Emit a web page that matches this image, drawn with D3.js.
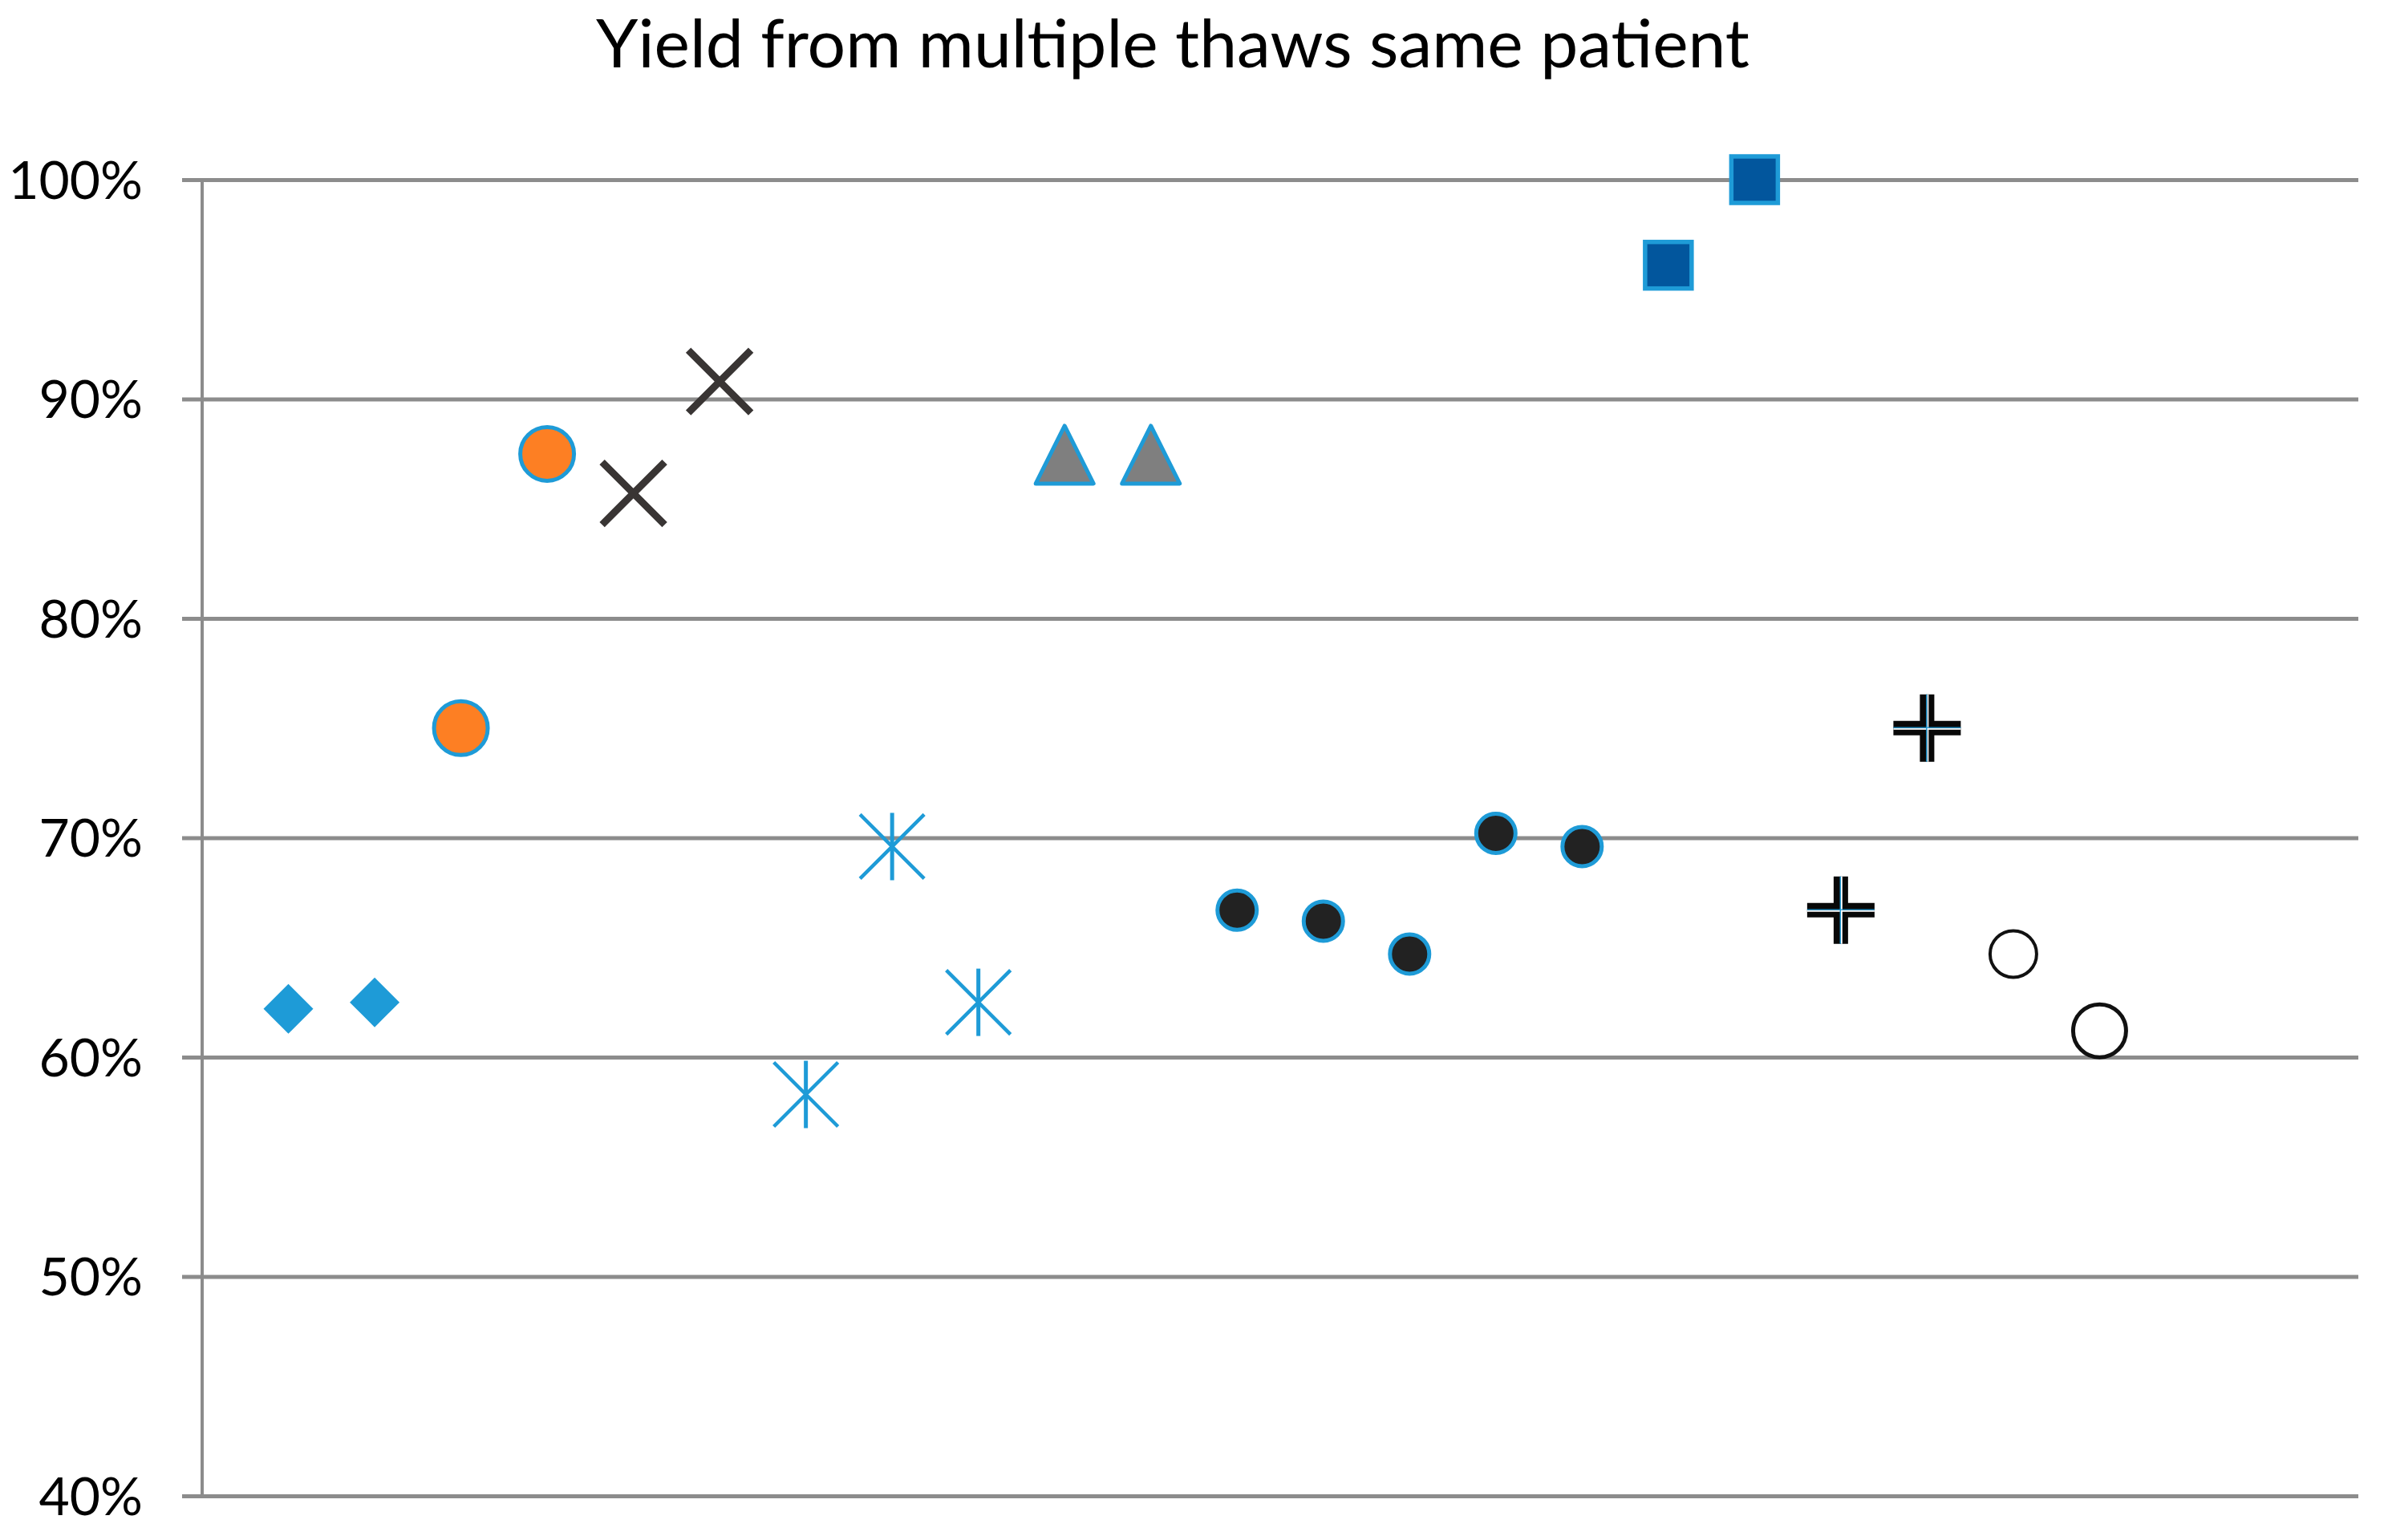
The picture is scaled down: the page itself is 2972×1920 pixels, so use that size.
<!DOCTYPE html>
<html>
<head>
<meta charset="utf-8">
<script src="https://cdn.jsdelivr.net/npm/d3@7"></script>
<style>
  body { margin: 0; background: #fff; }
  svg { display: block; font-family: Lato, "Open Sans", sans-serif; }
  .grid line { stroke: #8c8c8c; stroke-width: 5; }
  .labels text { fill: #000; font-size: 66px; font-family: Lato, "Open Sans", sans-serif; }
</style>
</head>
<body>
<svg id="chart"></svg>
<script>
"use strict";

var Width = 2972,
    Height = 1920,
    titleText = "Yield from multiple thaws same patient",
    yTicks = [0.4, 0.5, 0.6, 0.7, 0.8, 0.9, 1.0],
    xDomain = [0, 25];

// one array per patient series, in plotting order left to right
var diamondYield = [0.622, 0.625],
    orangeYield = [0.750, 0.875],
    crossYield = [0.857, 0.908],
    starYield = [0.583, 0.696, 0.625],
    triangleYield = [0.875, 0.875],
    dotYield = [0.667, 0.662, 0.647, 0.702, 0.696],
    squareYield = [0.961, 1.000],
    plusYield = [0.667, 0.750],
    ringYield = [0.647, 0.612];

var seriesNames = ["diamond", "orange", "cross", "star", "triangle", "dot", "square", "plus", "ring"],
    seriesValues = [diamondYield, orangeYield, crossYield, starYield, triangleYield, dotYield, squareYield, plusYield, ringYield];

var blue = "#1e9bd7";

var x = d3.scaleLinear().domain(xDomain).range([252, 2940]);
var y = d3.scaleLinear().domain([0.4, 1.0]).range([1865, 224]);

var svg = d3.select("#chart")
    .attr("width", Width)
    .attr("height", Height);

svg.append("rect").attr("width", Width).attr("height", Height).attr("fill", "#fff");

svg.append("text")
    .attr("x", 1462)
    .attr("y", 84)
    .attr("text-anchor", "middle")
    .attr("font-size", 84)
    .attr("fill", "#000")
    .text(titleText);

// gridlines (they start a bit left of the axis like tick marks)
var grid = svg.append("g")
    .attr("class", "grid")
    .attr("transform", "translate(227,0)")
    .call(d3.axisRight(y).tickValues(yTicks).tickSize(x.range()[1] - 227).tickFormat(""));
grid.select(".domain").remove();

var labels = svg.append("g")
    .attr("class", "labels")
    .attr("transform", "translate(227,0)")
    .call(d3.axisLeft(y).tickValues(yTicks).tickSize(0).tickPadding(49).tickFormat(d3.format(".0%")))
    .attr("font-family", null)
    .attr("font-size", null);
labels.select(".domain").remove();
labels.selectAll("text").attr("dy", "0.35em");

svg.append("line")
    .attr("x1", x(0)).attr("x2", x(0))
    .attr("y1", y(1.0)).attr("y2", y(0.4))
    .attr("stroke", "#8c8c8c")
    .attr("stroke-width", 4);

// flatten to points, x is just the running position
var points = [], k = 1;
seriesValues.forEach(function (vals, s) {
    vals.forEach(function (v, i) {
        points.push({ series: seriesNames[s], idx: i, x: k++, value: v });
    });
});

function drawMarker(g, d) {
    var m = g.append("g").attr("transform", "translate(" + x(d.x) + "," + y(d.value) + ")");
    switch (d.series) {
        case "diamond":
            m.append("path").attr("d", "M0,-31L31,0L0,31L-31,0Z").attr("fill", blue);
            break;
        case "orange":
            m.append("circle").attr("r", 33.5).attr("fill", "#fd7f23").attr("stroke", blue).attr("stroke-width", 5);
            break;
        case "cross":
            m.append("path").attr("d", "M-39,-39L39,39M39,-39L-39,39")
                .attr("stroke", "#393534").attr("stroke-width", 9);
            break;
        case "star":
            m.append("path").attr("d", "M-40,-40L40,40M40,-40L-40,40")
                .attr("stroke", blue).attr("stroke-width", 4.5);
            m.append("path").attr("d", "M0,-42L0,42")
                .attr("stroke", blue).attr("stroke-width", 5);
            break;
        case "triangle":
            m.append("path").attr("d", "M0,-35L36,37L-36,37Z")
                .attr("fill", "#7f7f7f").attr("stroke", blue).attr("stroke-width", 5)
                .attr("stroke-linejoin", "round");
            break;
        case "dot":
            m.append("circle").attr("r", 24.5).attr("fill", "#222").attr("stroke", blue).attr("stroke-width", 5);
            break;
        case "square":
            m.append("rect").attr("x", -29).attr("y", -29).attr("width", 58).attr("height", 58)
                .attr("fill", "#02569d").attr("stroke", blue).attr("stroke-width", 5.5);
            break;
        case "plus":
            m.append("path").attr("d", "M0,-42L0,42M-42,0L42,0")
                .attr("stroke", "#080808").attr("stroke-width", 18);
            m.append("path").attr("d", "M1,-42L1,42M-42,1L42,1")
                .attr("stroke", "#fff").attr("stroke-width", 1.8);
            m.append("path").attr("d", "M-0.6,-42L-0.6,42M-42,-0.6L42,-0.6")
                .attr("stroke", blue).attr("stroke-width", 1.4);
            break;
        case "ring":
            m.append("circle").attr("r", d.idx === 0 ? 29 : 33)
                .attr("fill", "#fff").attr("stroke", "#111")
                .attr("stroke-width", d.idx === 0 ? 4 : 5);
            break;
    }
}

var marks = svg.append("g").attr("class", "marks");
points.forEach(function (d) { drawMarker(marks, d); });
</script>
</body>
</html>
